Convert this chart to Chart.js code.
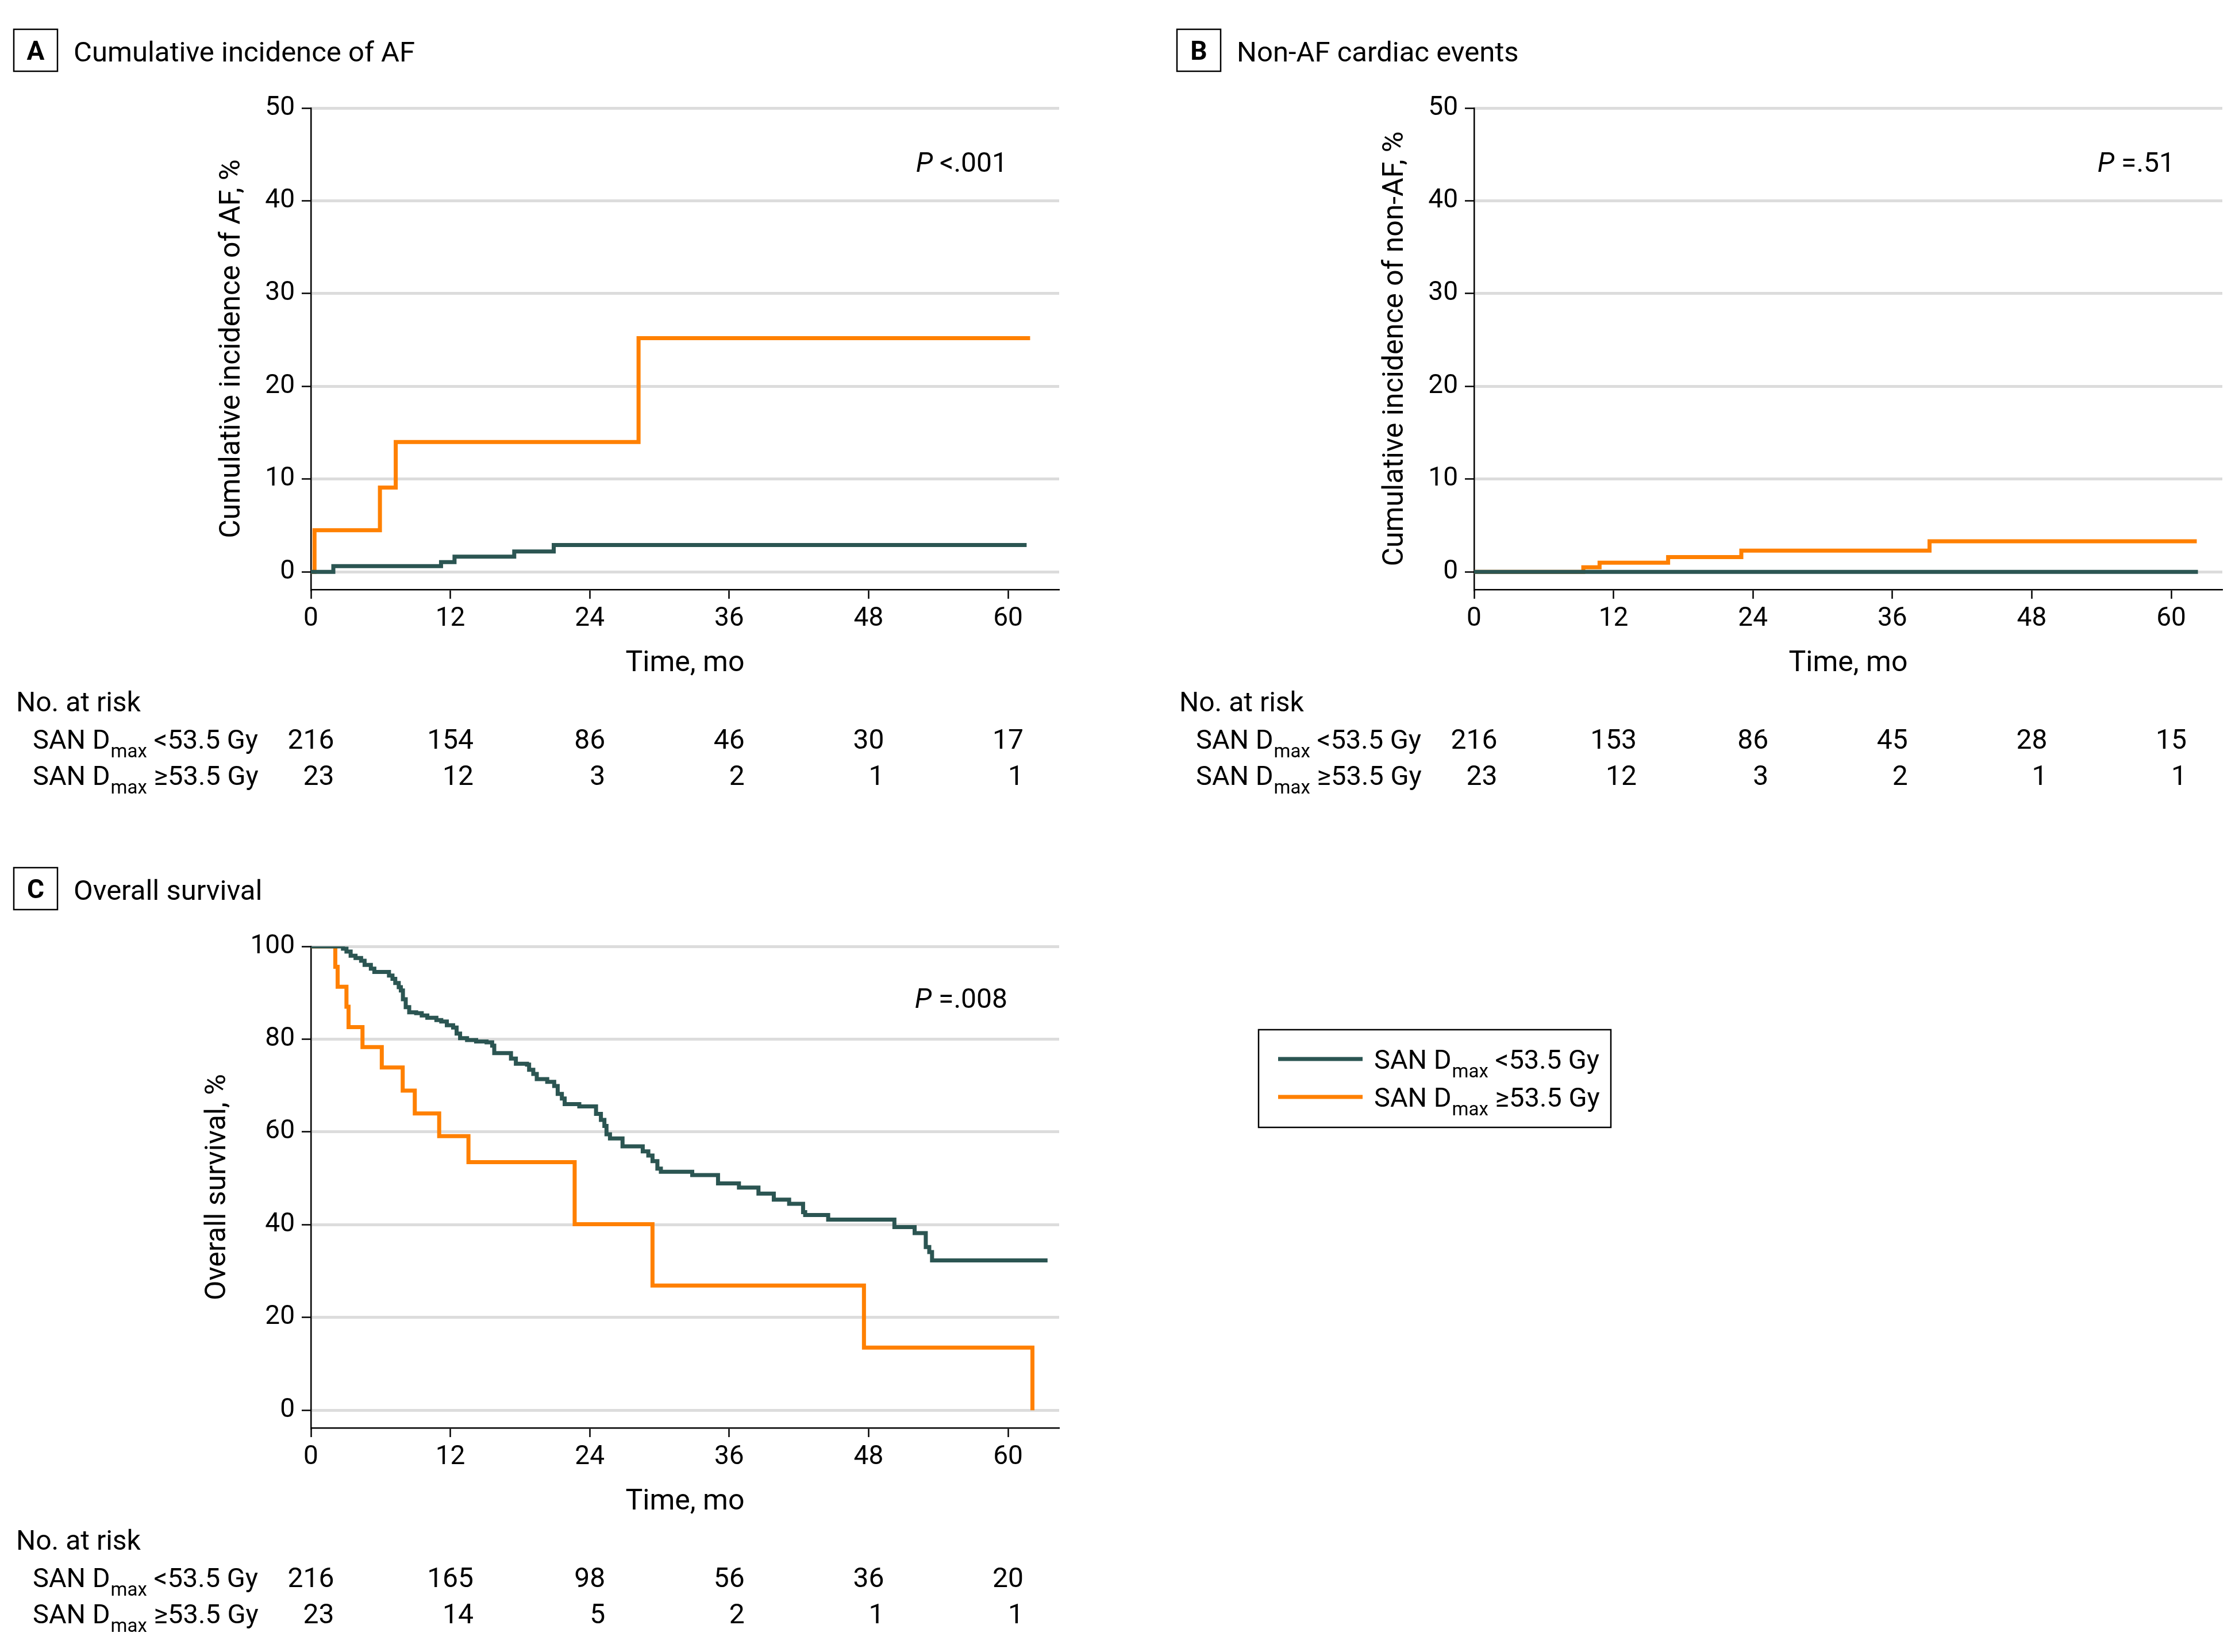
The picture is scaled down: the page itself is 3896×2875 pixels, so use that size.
<!DOCTYPE html>
<html><head><meta charset="utf-8">
<script src="https://cdn.jsdelivr.net/npm/chart.js@4.4.1/dist/chart.umd.min.js"></script>
<style>
html,body{margin:0;padding:0;background:#fff;}
body{width:3896px;height:2875px;position:relative;overflow:hidden;}
canvas{position:absolute;}
</style></head><body>
<canvas id="cA" width="1872" height="1420" style="left:0px;top:0px;width:1872px;height:1420px"></canvas>
<canvas id="cB" width="1872" height="1420" style="left:2024px;top:0px;width:1872px;height:1420px"></canvas>
<canvas id="cC" width="1872" height="1420" style="left:0px;top:1459px;width:1872px;height:1420px"></canvas>
<canvas id="leg" width="640" height="195" style="left:2180px;top:1780px;width:640px;height:195px"></canvas>
<script>
// ---------- data ----------
const timeTicks = [0, 12, 24, 36, 48, 60];
const incidenceTicks = [0, 10, 20, 30, 40, 50];
const survivalTicks = [0, 20, 40, 60, 80, 100];

// A: cumulative incidence of AF (%)
const afLowTime  = [0, 1.93, 11.2, 12.36, 17.5, 20.9, 61.6];
const afLowValue = [0, 0.62, 1.05, 1.65, 2.2, 2.9, 2.9];
const afHighTime  = [0, 0.31, 5.94, 7.3, 28.2, 61.9];
const afHighValue = [0, 4.5, 9.1, 14.0, 25.2, 25.2];

// B: non-AF cardiac events (%)
const nonAfLowTime  = [0, 62.3];
const nonAfLowValue = [0, 0];
const nonAfHighTime  = [0, 9.4, 10.8, 16.7, 23.0, 39.2, 62.2];
const nonAfHighValue = [0, 0.5, 1.0, 1.6, 2.3, 3.3, 3.3];

// C: overall survival (%)
const osLowTime = [0, 2.76, 3.06, 3.42, 3.84, 4.32, 4.62, 5.16, 5.46, 6.72, 7.02, 7.26, 7.56, 7.74, 7.92, 8.16, 8.46, 9.06, 9.54, 10.02, 10.8, 11.22, 11.7, 12.24, 12.54, 12.84, 13.44, 14.22, 15.12, 15.6, 15.78, 17.22, 17.64, 18.6, 18.78, 19.14, 19.44, 20.34, 20.94, 21.24, 21.6, 21.84, 23.1, 24.54, 24.96, 25.26, 25.44, 25.74, 26.82, 28.56, 29.04, 29.4, 29.82, 30.12, 32.82, 35.04, 36.84, 38.52, 39.84, 41.16, 42.36, 42.54, 44.52, 50.22, 51.96, 52.92, 53.22, 53.46, 63.4];
const osLowValue = [100, 99.5, 98.9, 98.0, 97.5, 96.9, 96.0, 95.2, 94.5, 93.7, 93.0, 92.1, 91.2, 90.5, 88.6, 86.9, 85.8, 85.6, 85.1, 84.6, 84.1, 83.8, 83.0, 82.5, 81.2, 80.2, 79.8, 79.5, 79.3, 78.6, 77.0, 75.8, 74.7, 74.5, 73.4, 72.5, 71.4, 70.8, 69.9, 68.2, 67.2, 66.0, 65.5, 63.9, 62.6, 61.3, 59.5, 58.6, 56.9, 55.8, 54.9, 53.7, 52.1, 51.4, 50.7, 48.9, 48.0, 46.7, 45.4, 44.5, 42.7, 42.1, 41.1, 39.5, 38.2, 35.2, 34.1, 32.3, 32.3];
const osHighTime  = [0, 2.1, 2.3, 3.06, 3.24, 4.44, 6.1, 7.9, 8.94, 11.04, 13.56, 22.7, 29.4, 47.6, 62.1];
const osHighValue = [100, 95.6, 91.3, 87.0, 82.6, 78.3, 73.9, 68.9, 64.0, 59.1, 53.5, 40.1, 26.9, 13.5, 0];

// numbers at risk
const afRiskLow = [216, 154, 86, 46, 30, 17];
const afRiskHigh = [23, 12, 3, 2, 1, 1];
const nonAfRiskLow = [216, 153, 86, 45, 28, 15];
const nonAfRiskHigh = [23, 12, 3, 2, 1, 1];
const osRiskLow = [216, 165, 98, 56, 36, 20];
const osRiskHigh = [23, 14, 5, 2, 1, 1];

const seriesNames = ['<53.5 Gy', '\u226553.5 Gy'];

// ---------- style ----------
const FAM = 'Roboto, "Liberation Sans", Arial, sans-serif';
const TEAL = '#2B5552';
const ORANGE = '#FF8000';
Chart.defaults.font.family = FAM;
Chart.defaults.color = '#000';
Chart.defaults.animation = false;

function pts(t, v) { return t.map((x, i) => ({x: x, y: v[i]})); }

function drawSan(ctx, x, baseline, rel, size) {
  ctx.textAlign = 'left';
  ctx.font = size + 'px ' + FAM;
  ctx.fillText('SAN D', x, baseline);
  let w = ctx.measureText('SAN D').width + 1;
  ctx.font = Math.round(size * 0.7) + 'px ' + FAM;
  ctx.fillText('max', x + w, baseline + 15);
  w += ctx.measureText('max').width;
  ctx.font = size + 'px ' + FAM;
  ctx.fillText(' ' + rel, x + w, baseline);
}

function decor(cfg) {
  return {
    id: 'decor' + cfg.letter,
    afterDraw(chart) {
      const ctx = chart.ctx;
      const xs = chart.scales.x;
      ctx.save();
      ctx.fillStyle = '#000';
      ctx.strokeStyle = '#000';
      // panel letter box
      ctx.lineWidth = 2.5;
      ctx.strokeRect(24, 51, 76, 73);
      ctx.font = 'bold 46px ' + FAM;
      ctx.textAlign = 'center';
      ctx.textBaseline = 'alphabetic';
      ctx.fillText(cfg.letter, 62, 104);
      ctx.textAlign = 'left';
      ctx.font = '49px ' + FAM;
      ctx.fillText(cfg.title, 128, 107);
      // P value
      ctx.font = '48px ' + FAM;
      ctx.textAlign = 'right';
      const rest = ' ' + cfg.pText;
      ctx.fillText(rest, cfg.pRight, cfg.pBase);
      const wr = ctx.measureText(rest).width;
      ctx.font = 'italic 48px ' + FAM;
      ctx.fillText('P', cfg.pRight - wr, cfg.pBase);
      // risk table
      ctx.textAlign = 'left';
      ctx.font = '48px ' + FAM;
      ctx.fillText('No. at risk', 28, 1238);
      drawSan(ctx, 57, 1303, seriesNames[0], 47);
      drawSan(ctx, 57, 1366, seriesNames[1], 47);
      ctx.font = '48px ' + FAM;
      timeTicks.forEach((t, i) => {
        const x = xs.getPixelForValue(t);
        const s1 = String(cfg.low[i]);
        const w1 = ctx.measureText(s1).width;
        ctx.textAlign = 'center';
        ctx.fillText(s1, x, 1303);
        ctx.textAlign = 'right';
        ctx.fillText(String(cfg.high[i]), x + w1 / 2, 1366);
      });
      ctx.restore();
    }
  };
}

function makePanel(id, cfg) {
  return new Chart(document.getElementById(id), {
    type: 'line',
    data: {
      datasets: [
        {label: 'SAN Dmax ' + seriesNames[0], data: pts(cfg.lowT, cfg.lowV), borderColor: TEAL, backgroundColor: TEAL, borderWidth: 7, stepped: 'before', pointRadius: 0, fill: false},
        {label: 'SAN Dmax ' + seriesNames[1], data: pts(cfg.highT, cfg.highV), borderColor: ORANGE, backgroundColor: ORANGE, borderWidth: 7, stepped: 'before', pointRadius: 0, fill: false}
      ]
    },
    options: {
      responsive: false,
      devicePixelRatio: 1,
      animation: false,
      layout: {padding: {top: 188, right: 29, bottom: 234, left: 0}},
      plugins: {legend: {display: false}, tooltip: {enabled: false}},
      scales: {
        x: {
          type: 'linear', min: 0, max: 64.4,
          afterBuildTicks: s => { s.ticks = timeTicks.map(v => ({value: v})); },
          afterFit: s => { s.height = 160; },
          grid: {display: true, drawOnChartArea: false, drawTicks: true, tickLength: 16, tickColor: '#000', tickWidth: 2.5},
          border: {display: true, color: '#000', width: 2.5},
          ticks: {color: '#000', font: {size: 46}, padding: 8, maxRotation: 0, autoSkip: false},
          title: {display: true, text: 'Time, mo', color: '#000', font: {size: 50}, padding: {top: 0, bottom: 1}}
        },
        y: {
          type: 'linear', min: cfg.yMin, max: cfg.yMax,
          afterBuildTicks: s => { s.ticks = cfg.yTicks.map(v => ({value: v})); },
          afterFit: s => { s.width = 541; },
          grid: {color: '#dcdcdc', lineWidth: 5, drawTicks: true, tickLength: 16, tickColor: '#000', tickWidth: 2.5},
          border: {display: true, color: '#000', width: 2.5},
          ticks: {color: '#000', font: {size: 46}, padding: 12, autoSkip: false},
          title: {display: true, text: cfg.yTitle, color: '#000', font: {size: 50}, padding: {top: cfg.yTitlePad, bottom: 0}}
        }
      }
    },
    plugins: [decor(cfg)]
  });
}

makePanel('cA', {
  letter: 'A', title: 'Cumulative incidence of AF', yTitle: 'Cumulative incidence of AF, %', yTitlePad: 374,
  yMin: -1.9, yMax: 50, yTicks: incidenceTicks,
  lowT: afLowTime, lowV: afLowValue, highT: afHighTime, highV: afHighValue,
  pText: '<.001', pRight: 1753, pBase: 299, low: afRiskLow, high: afRiskHigh
});
makePanel('cB', {
  letter: 'B', title: 'Non-AF cardiac events', yTitle: 'Cumulative incidence of non-AF, %', yTitlePad: 374,
  yMin: -1.9, yMax: 50, yTicks: incidenceTicks,
  lowT: nonAfLowTime, lowV: nonAfLowValue, highT: nonAfHighTime, highV: nonAfHighValue,
  pText: '=.51', pRight: 1760, pBase: 299, low: nonAfRiskLow, high: nonAfRiskHigh
});
makePanel('cC', {
  letter: 'C', title: 'Overall survival', yTitle: 'Overall survival, %', yTitlePad: 349,
  yMin: -3.8, yMax: 100, yTicks: survivalTicks,
  lowT: osLowTime, lowV: osLowValue, highT: osHighTime, highV: osHighValue,
  pText: '=.008', pRight: 1753, pBase: 295, low: osRiskLow, high: osRiskHigh
});

// ---------- legend ----------
(function () {
  const ctx = document.getElementById('leg').getContext('2d');
  ctx.fillStyle = '#000';
  ctx.strokeStyle = '#000';
  ctx.lineWidth = 2.5;
  ctx.strokeRect(10, 12, 613, 170);
  const colors = [TEAL, ORANGE];
  const lineY = [63, 129];
  colors.forEach((c, i) => {
    ctx.fillStyle = c;
    ctx.fillRect(44, lineY[i] - 3.5, 147, 7);
    ctx.fillStyle = '#000';
    ctx.textBaseline = 'alphabetic';
    drawSan(ctx, 211, lineY[i] + 17, seriesNames[i], 47);
  });
})();
</script>
</body></html>
